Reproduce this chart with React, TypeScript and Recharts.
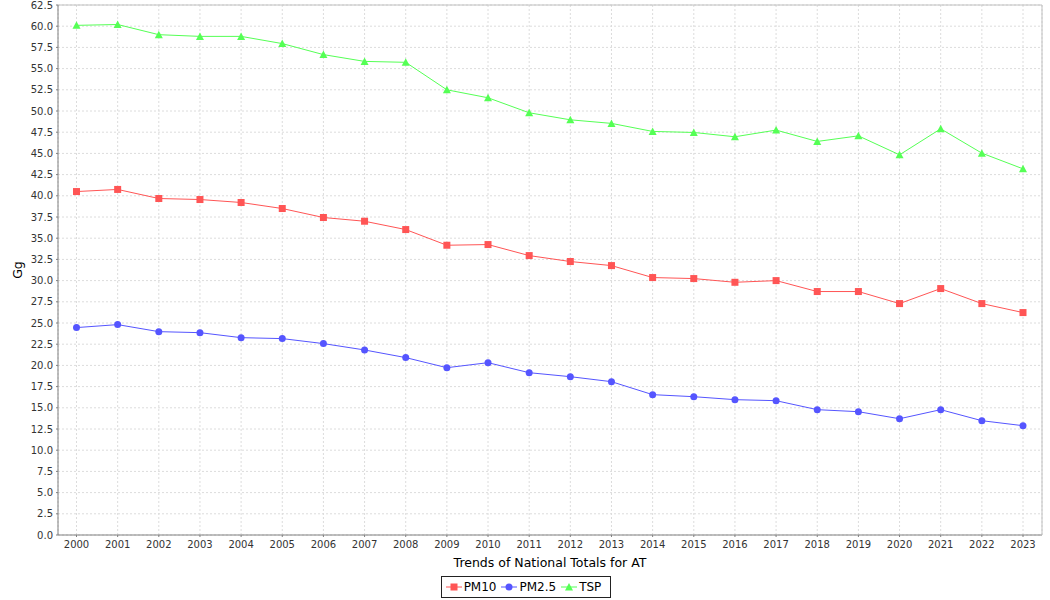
import { LineChart, Line, XAxis, YAxis, CartesianGrid, Legend } from "recharts";

// values (Gg)
const years = [
  "2000", "2001", "2002", "2003", "2004", "2005", "2006", "2007", "2008", "2009", "2010", "2011",
  "2012", "2013", "2014", "2015", "2016", "2017", "2018", "2019", "2020", "2021", "2022", "2023",
];
const pm10 = [
  40.5, 40.75, 39.68, 39.56, 39.21, 38.5, 37.44, 37.0, 36.02, 34.17, 34.25, 32.95,
  32.25, 31.77, 30.36, 30.24, 29.8, 30.0, 28.71, 28.71, 27.29, 29.06, 27.29, 26.23,
];
const pm25 = [
  24.46, 24.81, 23.98, 23.86, 23.27, 23.16, 22.57, 21.82, 20.92, 19.73, 20.32, 19.14,
  18.67, 18.08, 16.55, 16.31, 15.96, 15.84, 14.78, 14.54, 13.71, 14.78, 13.48, 12.89,
];
const tsp = [
  60.1, 60.2, 59.0, 58.8, 58.8, 57.95, 56.65, 55.85, 55.74, 52.5, 51.56, 49.79,
  48.96, 48.54, 47.59, 47.47, 46.96, 47.75, 46.41, 47.07, 44.83, 47.9, 45.03, 43.18,
];
const yTicks = [
  0, 2.5, 5, 7.5, 10, 12.5, 15, 17.5, 20, 22.5, 25, 27.5, 30, 32.5, 35, 37.5, 40, 42.5,
  45, 47.5, 50, 52.5, 55, 57.5, 60, 62.5,
];

const data = years.map((year, i) => ({ year, PM10: pm10[i], "PM2.5": pm25[i], TSP: tsp[i] }));

const FONT = "'DejaVu Sans', sans-serif";
const series = [
  { key: "PM10", color: "#ff5555", shape: "square" },
  { key: "PM2.5", color: "#5555ff", shape: "circle" },
  { key: "TSP", color: "#55ff55", shape: "triangle" },
];

function marker(shape: string, color: string, cx: number, cy: number, key?: any) {
  if (shape === "square") {
    return <rect key={key} x={cx - 3.5} y={cy - 3.5} width={7} height={7} fill={color} />;
  }
  if (shape === "circle") {
    return <circle key={key} cx={cx} cy={cy} r={3.5} fill={color} />;
  }
  return <path key={key} d={`M${cx},${cy - 4}L${cx + 4},${cy + 3.5}L${cx - 4},${cy + 3.5}Z`} fill={color} />;
}

function makeDot(shape: string, color: string) {
  return (p: any) => marker(shape, color, p.cx, p.cy, `${shape}-${p.index}`);
}

function LegendBox() {
  return (
    <div style={{ display: "flex", justifyContent: "center", paddingLeft: 9 }}>
      <div
        style={{
          display: "flex",
          alignItems: "center",
          height: 22,
          boxSizing: "border-box",
          border: "1px solid #222",
          padding: "0 4px",
          fontFamily: FONT,
          fontSize: 12,
          color: "#000",
        }}
      >
        {series.map((s) => (
          <span key={s.key} style={{ display: "flex", alignItems: "center", marginRight: 5 }}>
            <svg width={16} height={10} style={{ marginRight: 2 }}>
              <line x1={0} y1={5} x2={16} y2={5} stroke={s.color} strokeWidth={1} />
              {marker(s.shape, s.color, 8, 5)}
            </svg>
            {s.key}
          </span>
        ))}
      </div>
    </div>
  );
}

export default function App() {
  return (
    <div>
      <style>{"body{margin:0;background:#fff}"}</style>
      <LineChart width={1050} height={600} data={data} margin={{ top: 4, right: 7, bottom: 2, left: 0 }}>
        <CartesianGrid stroke="#dcdcdc" strokeDasharray="2 2" />
        <XAxis
          dataKey="year"
          scale="point"
          padding={{ left: 18.5, right: 19 }}
          height={41}
          interval={0}
          stroke="#808080"
          tickSize={2}
          tickMargin={4}
          tick={{ fill: "#333", fontSize: 10, fontFamily: FONT }}
          label={{
            value: "Trends of National Totals for AT",
            position: "insideBottom",
            offset: 9,
            style: { fill: "#000", fontSize: 12.5, fontFamily: FONT },
          }}
        />
        <XAxis
          xAxisId="top"
          orientation="top"
          dataKey="year"
          height={1}
          tick={false}
          tickLine={false}
          stroke="#c0c0c0"
        />
        <YAxis
          width={58}
          domain={[0, 62.5]}
          ticks={yTicks}
          interval={0}
          stroke="#808080"
          tickSize={2}
          tickMargin={3}
          tickFormatter={(v: number) => v.toFixed(1)}
          tick={{ fill: "#333", fontSize: 10, fontFamily: FONT }}
          label={{
            value: "Gg",
            angle: -90,
            position: "insideLeft",
            offset: 18,
            style: { textAnchor: "middle", fill: "#000", fontSize: 12.5, fontFamily: FONT },
          }}
        />
        <YAxis
          yAxisId="right"
          orientation="right"
          width={1}
          domain={[0, 1]}
          tick={false}
          tickLine={false}
          stroke="#c0c0c0"
        />
        {series.map((s) => (
          <Line
            key={s.key}
            dataKey={s.key}
            type="linear"
            stroke={s.color}
            strokeWidth={1}
            dot={makeDot(s.shape, s.color)}
            activeDot={false}
            isAnimationActive={false}
          />
        ))}
        <Legend verticalAlign="bottom" align="center" content={() => <LegendBox />} />
      </LineChart>
    </div>
  );
}
